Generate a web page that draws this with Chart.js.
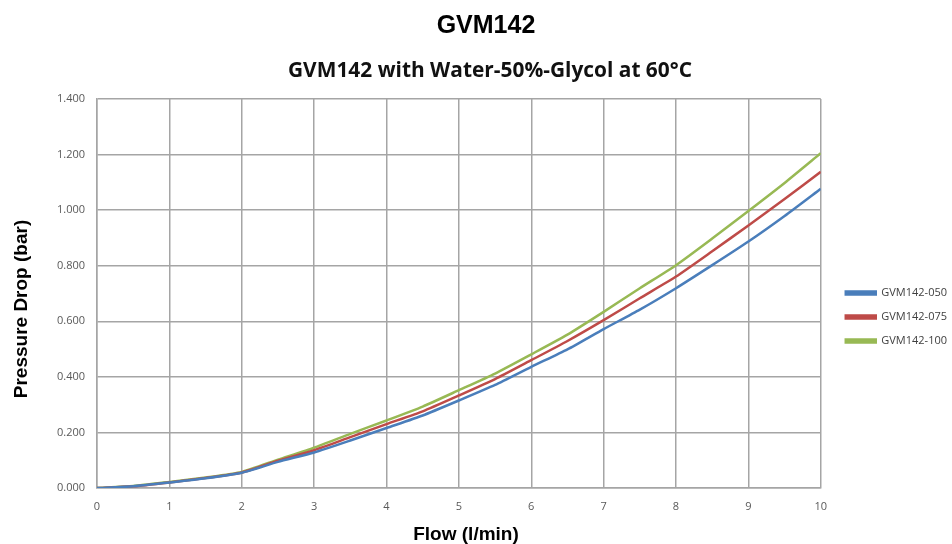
<!DOCTYPE html>
<html>
<head>
<meta charset="utf-8">
<script src="https://cdn.jsdelivr.net/npm/chart.js@4.4.0/dist/chart.umd.min.js"></script>
<style>
  html, body { margin: 0; padding: 0; background: #fff; }
  #wrap { width: 952px; height: 544px; position: relative; }
</style>
</head>
<body>
<div id="wrap"><canvas id="c" width="952" height="544"></canvas></div>
<script>
const mainTitle = "GVM142";
const subTitle = "GVM142 with Water-50%-Glycol at 60°C";
const xTitle = "Flow (l/min)";
const yTitle = "Pressure Drop (bar)";

const flow = [0, 0.5, 1, 1.5, 2, 2.5, 3, 3.5, 4, 4.5, 5, 5.5, 6, 6.5, 7, 7.5, 8, 8.5, 9, 9.5, 10];
const seriesNames = ["GVM142-050", "GVM142-075", "GVM142-100"];
const gvm050 = [0, 0.006, 0.020, 0.035, 0.055, 0.094, 0.128, 0.171, 0.216, 0.261, 0.315, 0.371, 0.436, 0.499, 0.572, 0.642, 0.719, 0.802, 0.887, 0.979, 1.077];
const gvm075 = [0, 0.006, 0.020, 0.036, 0.056, 0.098, 0.136, 0.183, 0.230, 0.276, 0.333, 0.392, 0.460, 0.529, 0.604, 0.683, 0.761, 0.852, 0.945, 1.040, 1.138];
const gvm100 = [0, 0.007, 0.022, 0.038, 0.058, 0.102, 0.145, 0.195, 0.243, 0.293, 0.352, 0.412, 0.481, 0.552, 0.634, 0.719, 0.802, 0.898, 0.997, 1.098, 1.205];
const colors = ["#4a7ebb", "#be4b48", "#98b954"];

const seriesValues = [gvm050, gvm075, gvm100];
const datasets = seriesValues.map((vals, i) => ({
  label: seriesNames[i],
  data: flow.map((x, j) => ({ x: x, y: vals[j] })),
  borderColor: colors[i],
  backgroundColor: colors[i],
  borderWidth: 2.5,
  pointRadius: 0,
  tension: 0.2,
  fill: false
}));

const gridColor = "#a5a5a5";
const tickFont = { family: "'Open Sans', 'Liberation Sans', sans-serif", size: 11 };

const textPlugin = {
  id: "texts",
  afterDraw(chart) {
    const ctx = chart.ctx;
    ctx.save();
    ctx.fillStyle = "#000";
    ctx.textAlign = "center";
    ctx.textBaseline = "alphabetic";
    ctx.font = "bold 25px 'Liberation Sans', Arial, sans-serif";
    ctx.fillText(mainTitle, 486, 33);

    ctx.font = "bold 21px 'Open Sans', sans-serif";
    const w = ctx.measureText(subTitle).width;
    const sx = 404 / w;
    ctx.save();
    ctx.translate(490, 77);
    ctx.scale(sx, 1);
    ctx.fillStyle = "#111";
    ctx.fillText(subTitle, 0, 0);
    ctx.restore();

    ctx.fillStyle = "#000";
    ctx.font = "bold 19px 'Liberation Sans', Arial, sans-serif";
    ctx.textBaseline = "middle";
    ctx.fillText(xTitle, 466, 535);
    ctx.translate(22, 309);
    ctx.rotate(-Math.PI / 2);
    ctx.fillText(yTitle, 0, 0);
    ctx.restore();
  }
};

new Chart(document.getElementById("c"), {
  type: "line",
  data: { datasets: datasets },
  options: {
    responsive: false,
    animation: false,
    layout: { padding: { top: 99, left: 0, right: -5, bottom: 9 } },
    plugins: {
      title: { display: false },
      tooltip: { enabled: false },
      legend: {
        display: true,
        position: "right",
        labels: {
          boxWidth: 30,
          boxHeight: 3,
          padding: 13,
          color: "#404040",
          font: { family: "'Open Sans', 'Liberation Sans', sans-serif", size: 11 }
        }
      }
    },
    scales: {
      x: {
        type: "linear",
        min: 0, max: 10,
        ticks: { stepSize: 1, color: "#595959", font: tickFont, padding: 12, maxRotation: 0 },
        grid: { color: gridColor, lineWidth: 1.5, drawTicks: false },
        border: { color: gridColor, width: 1.5 },
        afterFit(s) { s.height = 47; }
      },
      y: {
        type: "linear",
        min: 0, max: 1.4,
        ticks: { stepSize: 0.2, color: "#595959", font: tickFont, padding: 12,
          callback: v => Number(v).toFixed(3) },
        grid: { color: gridColor, lineWidth: 1.5, drawTicks: false },
        border: { color: gridColor, width: 1.5 },
        afterFit(s) { s.width = 97; }
      },
      gap: {
        type: "linear",
        position: "right",
        display: true,
        ticks: { display: false },
        grid: { display: false, drawTicks: false },
        border: { display: false },
        afterFit(s) { s.width = 12; }
      }
    }
  },
  plugins: [textPlugin]
});
</script>
</body>
</html>
